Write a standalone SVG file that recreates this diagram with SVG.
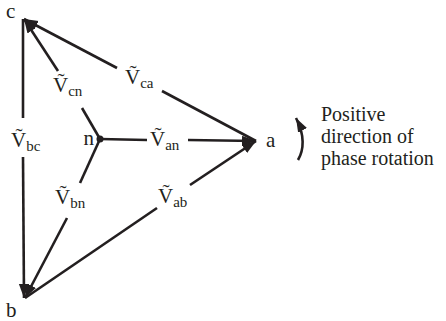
<svg xmlns="http://www.w3.org/2000/svg" width="446" height="321" viewBox="0 0 446 321">
<defs>
<marker id="ah" markerUnits="userSpaceOnUse" markerWidth="16" markerHeight="12" refX="14" refY="5" orient="auto">
<path d="M0,0 L14,5 L0,10 Z" fill="#231f20"/>
</marker>
</defs>
<style>
.ln{stroke:#231f20;stroke-width:2.6;fill:none}
.t{font-family:"Liberation Serif","Times New Roman",serif;fill:#231f20;font-size:21px}
.r{font-size:20px}
.s{font-size:15px}
</style>
<rect width="446" height="321" fill="#fff"/>
<g id="connectors">
<line class="ln" x1="256" y1="141" x2="162" y2="91"/>
<line class="ln" x1="117" y1="68" x2="24" y2="19" marker-end="url(#ah)"/>
<line class="ln" x1="100" y1="139" x2="82" y2="108"/>
<line class="ln" x1="58" y1="71" x2="24" y2="19" marker-end="url(#ah)"/>
<line class="ln" x1="23" y1="19" x2="23" y2="118"/>
<line class="ln" x1="23" y1="157" x2="24" y2="298" marker-end="url(#ah)"/>
<line class="ln" x1="100" y1="139" x2="80" y2="183"/>
<line class="ln" x1="67" y1="218" x2="25" y2="298" marker-end="url(#ah)"/>
<line class="ln" x1="100" y1="139" x2="147" y2="140"/>
<line class="ln" x1="188" y1="140" x2="256" y2="141" marker-end="url(#ah)"/>
<line class="ln" x1="25" y1="298" x2="157" y2="208"/>
<line class="ln" x1="190" y1="185" x2="256" y2="141" marker-end="url(#ah)"/>
</g>
<g id="n"><circle cx="100" cy="139" r="3.5" fill="#231f20"/><text class="t" x="94" y="145" text-anchor="end">n</text></g>
<g id="a"><text class="t" x="266" y="147">a</text></g>
<g id="b"><text class="t" x="6" y="317">b</text></g>
<g id="c"><text class="t" x="6" y="18">c</text></g>
<g id="lbl-ca"><text class="t" x="125" y="84">Ṽ<tspan class="s" dy="4">ca</tspan></text></g>
<g id="lbl-cn"><text class="t" x="53" y="92">Ṽ<tspan class="s" dy="4">cn</tspan></text></g>
<g id="lbl-bc"><text class="t" x="11" y="147">Ṽ<tspan class="s" dy="4">bc</tspan></text></g>
<g id="lbl-bn"><text class="t" x="55" y="204">Ṽ<tspan class="s" dy="4">bn</tspan></text></g>
<g id="lbl-an"><text class="t" x="150" y="146">Ṽ<tspan class="s" dy="4">an</tspan></text></g>
<g id="lbl-ab"><text class="t" x="158" y="203">Ṽ<tspan class="s" dy="4">ab</tspan></text></g>
<g id="rotation">
<path class="ln" d="M298,160 C304,150 305,135 296,118" marker-end="url(#ah)"/>
<text class="t r" x="321" y="121">Positive</text>
<text class="t r" x="321" y="143">direction of</text>
<text class="t r" x="321" y="165">phase rotation</text>
</g>
</svg>
